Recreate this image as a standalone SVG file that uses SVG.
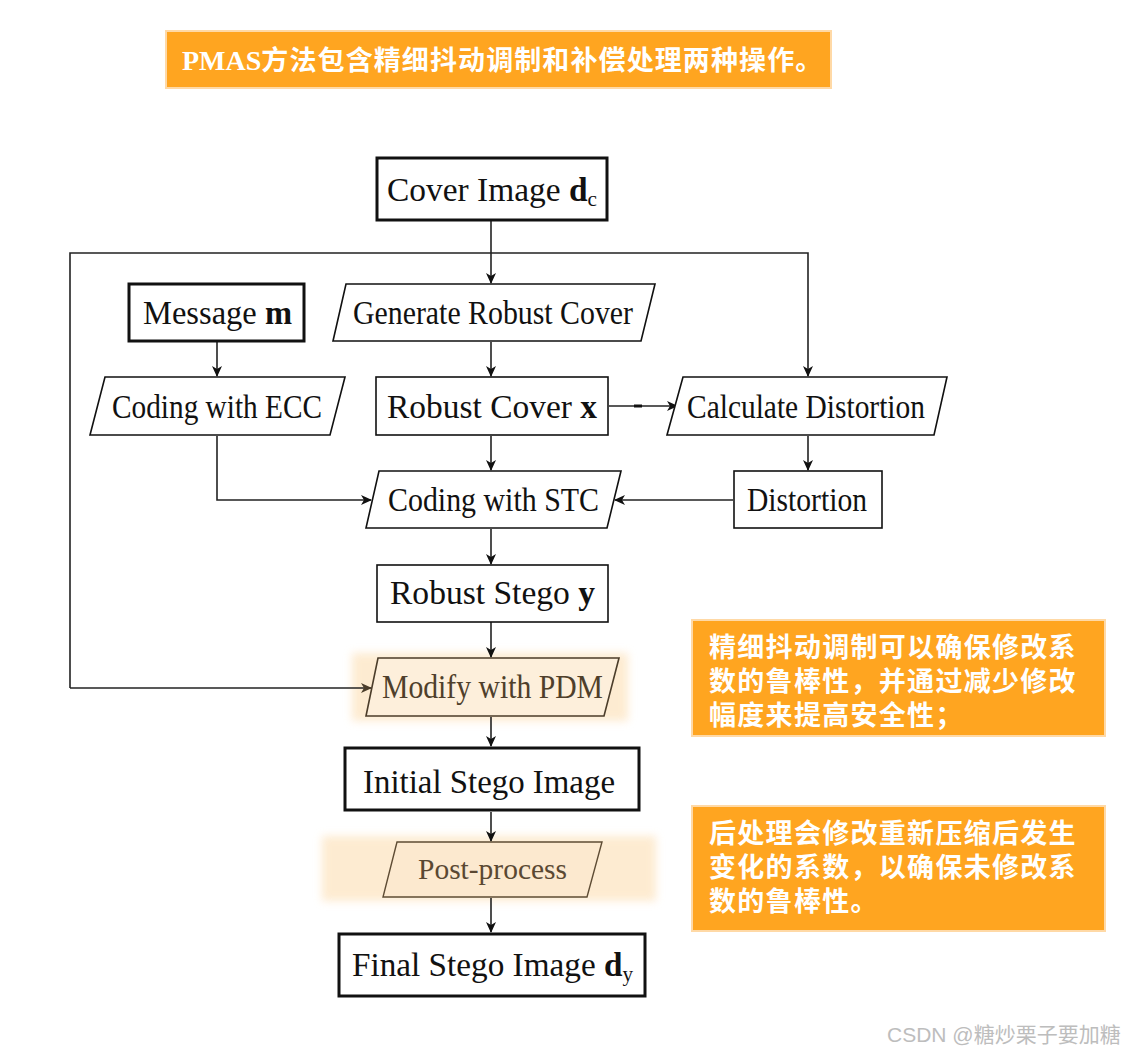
<svg xmlns="http://www.w3.org/2000/svg" width="1128" height="1055" viewBox="0 0 1128 1055">
<style>
.box{fill:#fff;stroke:#111;stroke-width:1.6}
.tbox{fill:#fff;stroke:#111;stroke-width:3}
.lbl{font-family:"Liberation Serif","DejaVu Serif",serif;font-size:33px;fill:#111;text-anchor:start}
.b{font-weight:bold}
.sub{font-size:21px}
.con{fill:none;stroke:#222;stroke-width:1.6}
.note{fill:#FFA520;stroke:#FFD9A6;stroke-width:2}
.nt{font-family:"Noto Sans CJK SC","Noto Sans",sans-serif;font-weight:bold;font-size:27px;fill:#fff;letter-spacing:1.3px}
.glow{fill:#FDE3BE;opacity:0.7}
</style>
<defs>
<marker id="ah" markerWidth="12" markerHeight="10" refX="10" refY="5" orient="auto" markerUnits="userSpaceOnUse">
<path d="M0,0 L11,5 L0,10 L3,5 Z" fill="#111"/>
</marker>
<marker id="ahb" markerWidth="12" markerHeight="10" refX="10" refY="5" orient="auto" markerUnits="userSpaceOnUse">
<path d="M0,0 L11,5 L0,10 L3,5 Z" fill="#4b3d2a"/>
</marker>
<filter id="blur" x="-10%" y="-30%" width="120%" height="160%"><feGaussianBlur stdDeviation="4"/></filter>
</defs>
<rect width="1128" height="1055" fill="#fff"/>

<g id="banner">
<rect class="note" x="166" y="31" width="665" height="57"/>
<text x="182" y="70" fill="#fff" font-weight="bold"><tspan font-family="Liberation Serif,serif" font-size="28">PMAS</tspan><tspan font-family="Noto Sans CJK SC,sans-serif" font-size="27" letter-spacing="1.1">方法包含精细抖动调制和补偿处理两种操作。</tspan></text>
</g>

<g id="glows">
<rect class="glow" x="352" y="653" width="276" height="68" filter="url(#blur)"/>
<rect class="glow" x="322" y="836" width="334" height="65" filter="url(#blur)"/>
</g>

<g id="connectors">
<line class="con" x1="491" y1="221" x2="491" y2="283" marker-end="url(#ah)"/>
<polyline class="con" points="70,688 70,253 808,253 808,376" marker-end="url(#ah)"/>
<line class="con" x1="70" y1="688" x2="371" y2="688" stroke="#4b3d2a" marker-end="url(#ahb)"/>
<line class="con" x1="217" y1="342" x2="217" y2="376" marker-end="url(#ah)"/>
<line class="con" x1="491" y1="342" x2="491" y2="376" marker-end="url(#ah)"/>
<line class="con" x1="609" y1="406" x2="677" y2="406" marker-end="url(#ah)"/>
<line x1="634" y1="406" x2="642" y2="406" stroke="#111" stroke-width="3"/>
<line class="con" x1="808" y1="436" x2="808" y2="470" marker-end="url(#ah)"/>
<line class="con" x1="491" y1="436" x2="491" y2="470" marker-end="url(#ah)"/>
<polyline class="con" points="217,436 217,500 371,500" marker-end="url(#ah)"/>
<line class="con" x1="733" y1="500" x2="615" y2="500" marker-end="url(#ah)"/>
<line class="con" x1="491" y1="529" x2="491" y2="564" marker-end="url(#ah)"/>
<line class="con" x1="491" y1="622" x2="491" y2="657" marker-end="url(#ah)"/>
<line class="con" x1="491" y1="717" x2="491" y2="746" marker-end="url(#ah)"/>
<line class="con" x1="491" y1="812" x2="491" y2="841" marker-end="url(#ah)"/>
<line class="con" x1="491" y1="898" x2="491" y2="932" marker-end="url(#ah)"/>
</g>

<g id="cover">
<rect class="tbox" x="377" y="158" width="230" height="62"/>
<text class="lbl" x="387" y="201" textLength="210" lengthAdjust="spacingAndGlyphs">Cover Image <tspan class="b">d</tspan><tspan class="sub" dy="5">c</tspan></text>
</g>
<g id="message">
<rect class="tbox" x="129" y="284" width="175" height="57"/>
<text class="lbl" x="143" y="324" textLength="149" lengthAdjust="spacingAndGlyphs">Message <tspan class="b">m</tspan></text>
</g>
<g id="generate">
<polygon class="box" points="346,284 655,284 641,341 333,341"/>
<text class="lbl" x="353" y="324" textLength="280" lengthAdjust="spacingAndGlyphs">Generate Robust Cover</text>
</g>
<g id="ecc">
<polygon class="box" points="105,377 345,377 330,435 90,435"/>
<text class="lbl" x="112" y="418" textLength="210" lengthAdjust="spacingAndGlyphs">Coding with ECC</text>
</g>
<g id="robustcover">
<rect class="box" x="376" y="377" width="232" height="58"/>
<text class="lbl" x="387" y="418" textLength="210" lengthAdjust="spacingAndGlyphs">Robust Cover <tspan class="b">x</tspan></text>
</g>
<g id="calc">
<polygon class="box" points="683,377 947,377 934,435 667,435"/>
<text class="lbl" x="687" y="418" textLength="238" lengthAdjust="spacingAndGlyphs">Calculate Distortion</text>
</g>
<g id="distortion">
<rect class="box" x="734" y="471" width="148" height="57"/>
<text class="lbl" x="747" y="511" textLength="120" lengthAdjust="spacingAndGlyphs">Distortion</text>
</g>
<g id="stc">
<polygon class="box" points="379,471 621,471 607,528 366,528"/>
<text class="lbl" x="388" y="511" textLength="211" lengthAdjust="spacingAndGlyphs">Coding with STC</text>
</g>
<g id="stego">
<rect class="box" x="377" y="565" width="231" height="57"/>
<text class="lbl" x="390" y="604" textLength="205" lengthAdjust="spacingAndGlyphs">Robust Stego <tspan class="b">y</tspan></text>
</g>
<g id="pdm">
<polygon points="378,658 619,658 604,716 366,716" fill="#FDEFDB" stroke="#4b3d2a" stroke-width="1.6"/>
<text class="lbl" x="382" y="698" style="fill:#4f3f2b" textLength="221" lengthAdjust="spacingAndGlyphs">Modify with PDM</text>
</g>
<g id="initial">
<rect class="tbox" x="345" y="748" width="294" height="62"/>
<text class="lbl" x="363" y="793" textLength="252" lengthAdjust="spacingAndGlyphs">Initial Stego Image</text>
</g>
<g id="post">
<polygon points="397,842 602,842 587,897 383,897" fill="#FCE9CF" stroke="#5e4c34" stroke-width="1.4"/>
<text class="lbl" x="418" y="879" style="fill:#5a4832;font-size:30px" textLength="149" lengthAdjust="spacingAndGlyphs">Post-process</text>
</g>
<g id="final">
<rect class="tbox" x="339" y="934" width="306" height="62"/>
<text class="lbl" x="352" y="976" textLength="281" lengthAdjust="spacingAndGlyphs">Final Stego Image <tspan class="b">d</tspan><tspan class="sub" dy="5">y</tspan></text>
</g>

<g id="note1">
<rect class="note" x="692" y="620" width="413" height="116"/>
<text class="nt" x="709" y="657">精细抖动调制可以确保修改系</text>
<text class="nt" x="709" y="691">数的鲁棒性，并通过减少修改</text>
<text class="nt" x="709" y="725">幅度来提高安全性；</text>
</g>
<g id="note2">
<rect class="note" x="692" y="806" width="413" height="125"/>
<text class="nt" x="709" y="843">后处理会修改重新压缩后发生</text>
<text class="nt" x="709" y="877">变化的系数，以确保未修改系</text>
<text class="nt" x="709" y="911">数的鲁棒性。</text>
</g>

<text x="887" y="1042" font-family="Liberation Sans,Noto Sans CJK SC,sans-serif" font-size="21" fill="#bdbdbd">CSDN @糖炒栗子要加糖</text>
</svg>
